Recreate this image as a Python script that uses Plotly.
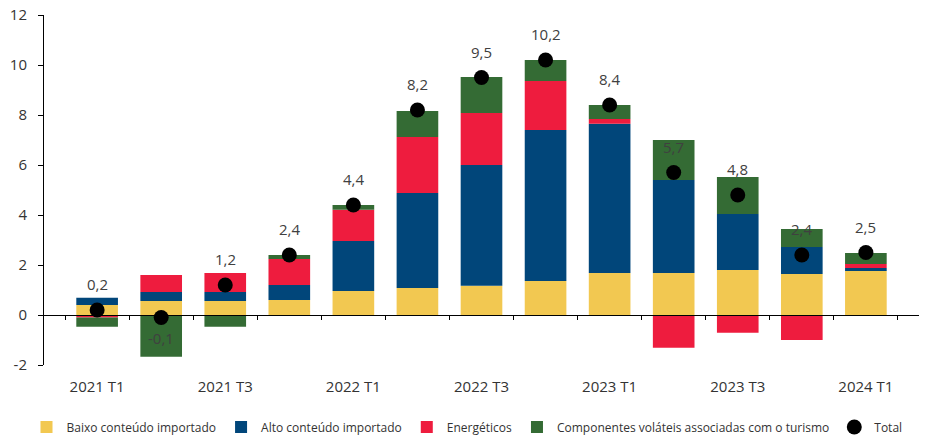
import plotly.graph_objects as go

categories = ["2021 T1", "2021 T2", "2021 T3", "2021 T4",
              "2022 T1", "2022 T2", "2022 T3", "2022 T4",
              "2023 T1", "2023 T2", "2023 T3", "2023 T4", "2024 T1"]

baixo = [0.40, 0.56, 0.56, 0.60, 0.96, 1.08, 1.17, 1.36, 1.68, 1.68, 1.80, 1.64, 1.76]
alto = [0.29, 0.36, 0.36, 0.60, 2.00, 3.80, 4.83, 6.04, 5.97, 3.72, 2.24, 1.08, 0.12]
energeticos = [-0.10, 0.68, 0.76, 1.04, 1.25, 2.24, 2.08, 1.96, 0.19, -1.31, -0.71, -1.00, 0.16]
volateis = [-0.37, -1.67, -0.47, 0.16, 0.19, 1.04, 1.44, 0.84, 0.56, 1.60, 1.48, 0.72, 0.44]
total = [0.2, -0.1, 1.2, 2.4, 4.4, 8.2, 9.5, 10.2, 8.4, 5.7, 4.8, 2.4, 2.5]

y_ticks = [-2, 0, 2, 4, 6, 8, 10, 12]

series_names = ["Baixo conteúdo importado", "Alto conteúdo importado", "Energéticos",
                "Componentes voláteis associadas com o turismo"]
series_values = [baixo, alto, energeticos, volateis]
series_colors = ["#F2C851", "#01467A", "#EE1C3E", "#346B34"]

y_min, y_max = -2, 12
FONT = "Open Sans"
TXT = "#333333"

fig = go.Figure()
for name, vals, col in zip(series_names, series_values, series_colors):
    fig.add_trace(go.Bar(x=categories, y=vals, name=name, marker=dict(color=col, line=dict(width=0))))

fig.add_trace(go.Scatter(x=categories, y=total, name="Total", mode="markers",
                         marker=dict(color="black", size=15)))

for c, t in zip(categories, total):
    fig.add_annotation(x=c, y=t, text=f"{t:.1f}".replace(".", ","), showarrow=False,
                       yshift=26 if t >= 0 else -20, yanchor="middle",
                       font=dict(family=FONT, size=15, color="#404040"))

ticktext = [c if i % 2 == 0 else "" for i, c in enumerate(categories)]

fig.update_layout(
    width=946, height=443,
    margin=dict(l=36, r=35, t=7, b=86, autoexpand=False),
    barmode="relative", bargap=0.35,
    plot_bgcolor="white", paper_bgcolor="white",
    font=dict(family=FONT, size=15, color=TXT),
    showlegend=True,
    legend=dict(orientation="h", x=-0.02, y=-0.177, xanchor="left", yanchor="middle",
                font=dict(family=FONT, size=12, color=TXT),
                itemwidth=30, tracegroupgap=0),
    xaxis=dict(type="category", categoryorder="array", categoryarray=categories,
               anchor="free", position=(0 - y_min) / (y_max - y_min),
               showline=True, linecolor="black", linewidth=1,
               ticks="outside", tickson="boundaries", ticklen=4, tickcolor="black",
               tickvals=categories, ticktext=ticktext, ticklabelstandoff=58,
               tickfont=dict(family=FONT, size=15, color=TXT),
               showgrid=False, zeroline=False),
    yaxis=dict(range=[y_min, y_max], tickvals=y_ticks, ticktext=[str(v) for v in y_ticks],
               showline=True, linecolor="black", linewidth=1,
               ticks="outside", ticklen=5, tickcolor="black", showgrid=False, zeroline=False,
               ticklabelstandoff=8, ticklabeloverflow="allow",
               tickfont=dict(family=FONT, size=15, color=TXT)),
)

fig.write_html("out.html")
